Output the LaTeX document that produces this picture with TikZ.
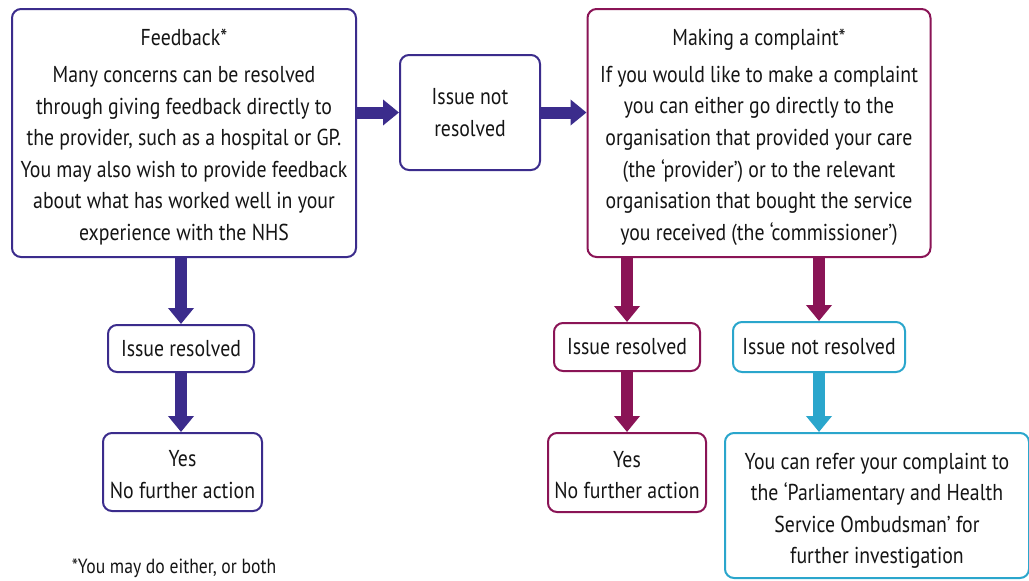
\documentclass[tikz,border=0pt]{standalone}
\usepackage{fontspec}
\setmainfont{PT Sans}[FakeStretch=0.86]
\usetikzlibrary{arrows.meta}
\definecolor{nhsblue}{HTML}{3B2C8C}
\definecolor{nhsmaroon}{HTML}{8A1456}
\definecolor{nhscyan}{HTML}{2AA6CC}
\definecolor{txt}{HTML}{151515}
\newcommand\toppad[1]{\rule{0pt}{#1}}
\tikzset{
  box/.style={draw, line width=2pt, rounded corners=9pt, fill=white, align=center,
    text=txt, inner sep=0pt, font=\fontsize{23}{31.6}\selectfont},
  bbox/.style={box, draw=nhsblue},
  mbox/.style={box, draw=nhsmaroon},
  cbox/.style={box, draw=nhscyan},
  flow/.style={line width=12pt, -{Triangle[width=25pt,length=16pt]}},
  bflow/.style={flow, draw=nhsblue, fill=nhsblue},
  mflow/.style={flow, draw=nhsmaroon, fill=nhsmaroon},
  cflow/.style={flow, draw=nhscyan, fill=nhscyan},
}
\begin{document}
\begin{tikzpicture}[x=1pt,y=-1pt]
\useasboundingbox (0,0) rectangle (1029,581);
\clip (0,0) rectangle (1029,581);
\fill[white] (0,0) rectangle (1029,581);

\node[bbox, minimum width=344pt, minimum height=248pt] (fb) at (184,133)
  {\toppad{25pt}Feedback*\\[5pt]
   Many concerns can be resolved\\
   through giving feedback directly to\\
   the provider, such as a hospital or GP.\\
   You may also wish to provide feedback\\
   about what has worked well in your\\
   experience with the NHS};
\node[bbox, minimum width=140pt, minimum height=115pt] (mid) at (470,112.5)
  {Issue not\\resolved};
\node[mbox, minimum width=343pt, minimum height=248pt] (mc) at (759,133)
  {\toppad{25pt}Making a complaint*\\[5pt]
   If you would like to make a complaint\\
   you can either go directly to the\\
   organisation that provided your care\\
   (the ‘provider’) or to the relevant\\
   organisation that bought the service\\
   you received (the ‘commissioner’)};

\node[bbox, minimum width=146pt, minimum height=47pt] (ir1) at (181,348.5) {Issue resolved};
\node[bbox, minimum width=159pt, minimum height=78pt] (yes1) at (182.5,472) {\toppad{21pt}Yes\\No further action};

\node[mbox, minimum width=146pt, minimum height=48pt] (ir2) at (627,347) {Issue resolved};
\node[mbox, minimum width=158pt, minimum height=79pt] (yes2) at (627,472.5) {\toppad{21pt}Yes\\No further action};

\node[cbox, minimum width=172pt, minimum height=50pt] (inr) at (819,347) {Issue not resolved};
\node[cbox, minimum width=304pt, minimum height=145pt] (omb) at (877,505.5)
  {\toppad{27pt}You can refer your complaint to\\
   the ‘Parliamentary and Health\\
   Service Ombudsman’ for\\
   further investigation};

\node[text=txt, font=\fontsize{20.5}{22}\selectfont, inner sep=0pt] (note) at (174,568) {*You may do either, or both};

\draw[bflow] (mid.west -| fb.east) -- (mid.west);
\draw[bflow] (mid.east) -- (mid.east -| mc.west);
\draw[bflow] (ir1.north |- fb.south) -- (ir1.north);
\draw[bflow] (ir1.south) -- (ir1.south |- yes1.north);
\draw[mflow] (ir2.north |- mc.south) -- (ir2.north);
\draw[mflow] (ir2.south) -- (ir2.south |- yes2.north);
\draw[mflow] (inr.north |- mc.south) -- (inr.north);
\draw[cflow] (inr.south) -- (inr.south |- omb.north);
\end{tikzpicture}
\end{document}
